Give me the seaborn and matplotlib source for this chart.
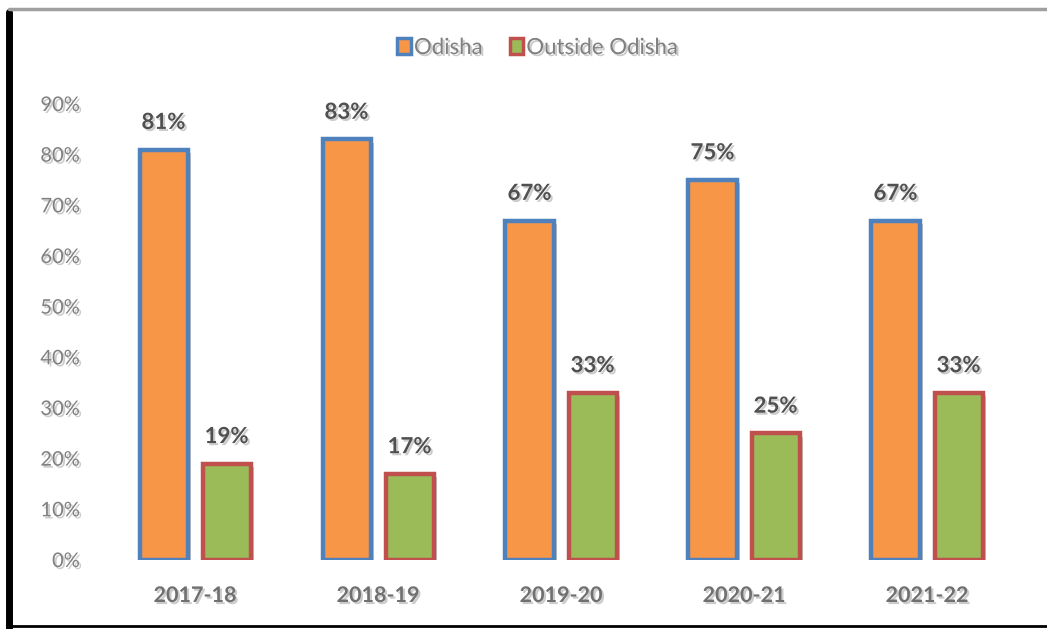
import matplotlib
matplotlib.use("Agg")
import matplotlib.pyplot as plt
import matplotlib.patheffects as pe
from matplotlib.patches import Patch
from matplotlib.lines import Line2D
import seaborn as sns
import pandas as pd

years = ["2017-18", "2018-19", "2019-20", "2020-21", "2021-22"]
odisha = [81, 83, 67, 75, 67]
outside = [19, 17, 33, 25, 33]
series = ["Odisha", "Outside Odisha"]
yticks = [0, 10, 20, 30, 40, 50, 60, 70, 80, 90]

df = pd.DataFrame({
    "year": years * 2,
    "value": odisha + outside,
    "series": [series[0]] * len(years) + [series[1]] * len(years),
})

fills = {"Odisha": "#F79646", "Outside Odisha": "#9BBB59"}
edges = {"Odisha": "#4F81BD", "Outside Odisha": "#C0504D"}

sns.set_theme(style="white")
plt.rcParams["font.family"] = ["Lato", "DejaVu Sans"]

fig = plt.figure(figsize=(10.47, 6.29), dpi=100)
fig.patch.set_facecolor("white")
ax = fig.add_axes([0.0989, 0.1097, 0.8739, 0.7250])

sns.barplot(data=df, x="year", y="value", hue="series", order=years,
            hue_order=series, palette=fills, width=0.689, gap=0.238,
            ax=ax, legend=False, saturation=1)

txt_shadow = [pe.withSimplePatchShadow(offset=(1.5, -1.5), shadow_rgbFace="#999999", alpha=0.5)]
shadow = [pe.SimplePatchShadow(offset=(2.5, -2.5), shadow_rgbFace="#888888", alpha=0.5), pe.Normal()]
for cont, name in zip(ax.containers, series):
    for bar in cont:
        bar.set_edgecolor(edges[name])
        bar.set_linewidth(3.2)
        bar.set_path_effects(shadow)
    ax.bar_label(cont, labels=[f"{int(v)}%" for v in cont.datavalues],
                 padding=12, fontsize=16, fontweight="bold", color="#505050",
                 path_effects=txt_shadow)

ax.set_ylim(0, 90)
ax.set_xlim(-0.5, 4.5)
ax.set_yticks(yticks)
ax.set_yticklabels([f"{v}%" for v in yticks])
ax.set_xlabel("")
ax.set_ylabel("")
for s in ax.spines.values():
    s.set_visible(False)
ax.tick_params(axis="y", length=0, pad=17, labelsize=14.5, labelcolor="#808080")
ax.tick_params(axis="x", length=0, pad=18, labelsize=15.5, labelcolor="#707070")
for lbl in ax.get_xticklabels():
    lbl.set_fontweight("bold")
    lbl.set_path_effects(txt_shadow)
for lbl in ax.get_yticklabels():
    lbl.set_path_effects(txt_shadow)
ax.grid(False)

handles = [Patch(facecolor=fills[s], edgecolor=edges[s], linewidth=2.5) for s in series]
leg = fig.legend(handles, series, loc="center", bbox_to_anchor=(538 / 1047, 1 - 48 / 629),
                 ncol=2, frameon=False, fontsize=16, handlelength=0.6, handleheight=0.75,
                 handletextpad=0.15, columnspacing=1.2)
for t in leg.get_texts():
    t.set_color("#808080")
    t.set_path_effects(txt_shadow)

# frame decorations
fig.add_artist(Line2D([9 / 1047, 9 / 1047], [0, 1 - 12 / 629], color="black", linewidth=5,
                      transform=fig.transFigure))
fig.add_artist(Line2D([9 / 1047, 1], [1 - 9 / 629, 1 - 9 / 629], color="#a0a0a0", linewidth=2.5,
                      transform=fig.transFigure))
fig.add_artist(Line2D([9 / 1047, 1], [3 / 629, 3 / 629], color="black", linewidth=2,
                      transform=fig.transFigure))

fig.savefig("out.png", dpi=100)
